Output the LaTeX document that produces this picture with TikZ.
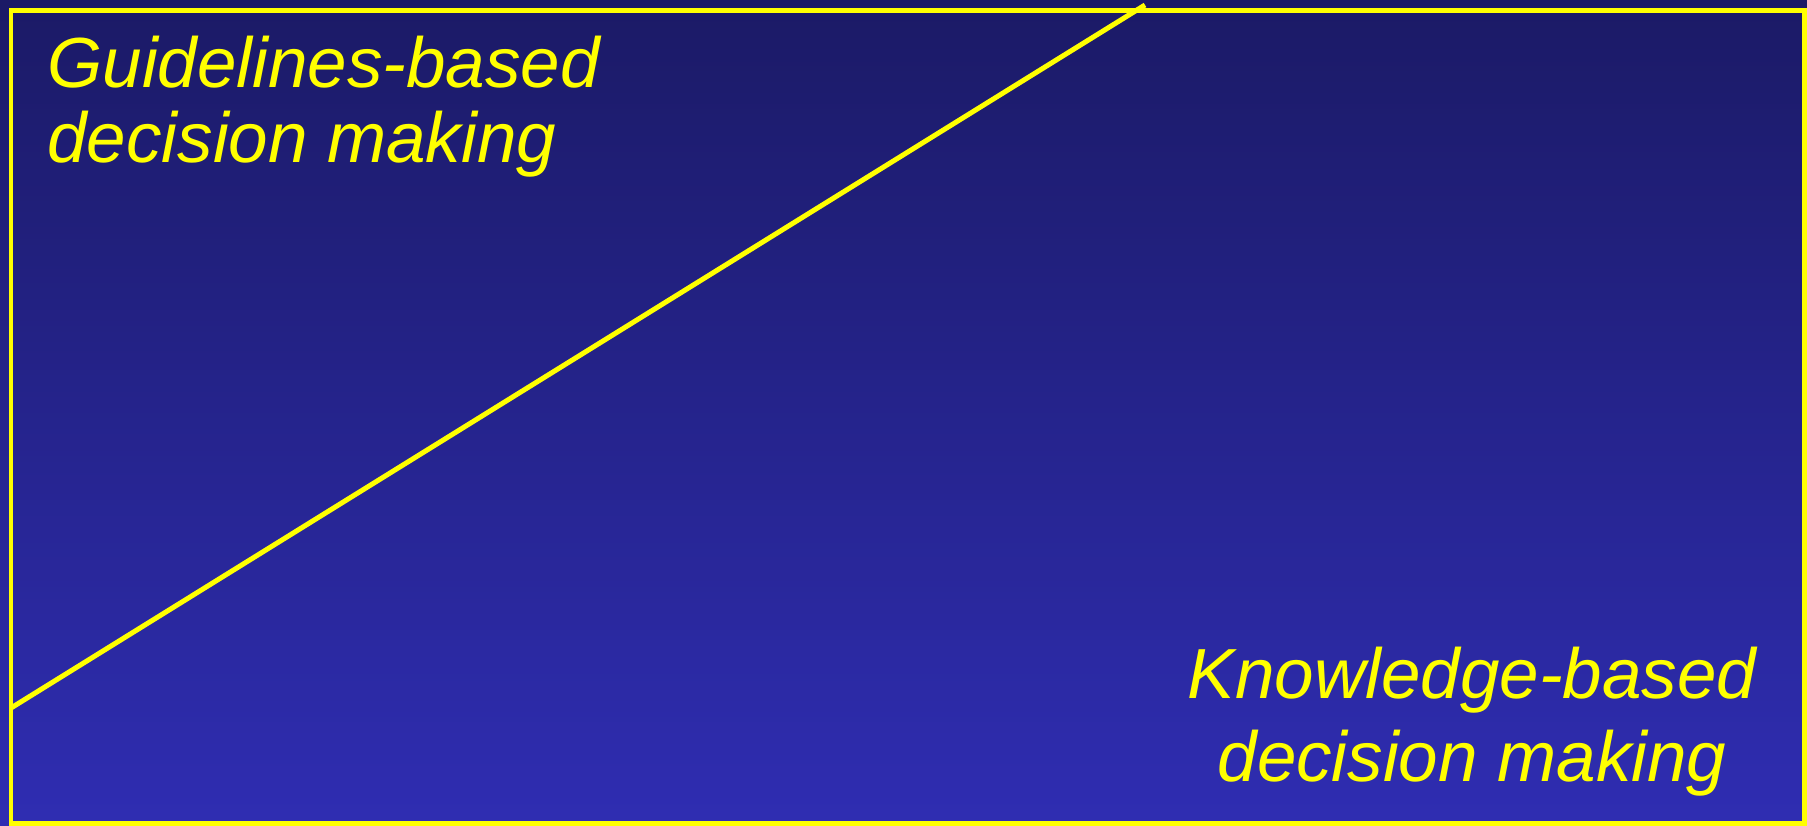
\documentclass[tikz,border=0pt]{standalone}
\usepackage{fontspec}
\newfontfamily\slidefont{Liberation Sans}
\definecolor{slidetop}{RGB}{27,26,102}
\definecolor{slidebottom}{RGB}{47,45,178}
\definecolor{slideyellow}{RGB}{255,255,0}
\begin{document}
\begin{tikzpicture}[x=0.02cm,y=-0.02cm,line cap=butt,line join=miter]
  \useasboundingbox (0,0) rectangle (1807,825);
  \shade[top color=slidetop,bottom color=slidebottom] (0,0) rectangle (1807,825);
  \coordinate (TL) at (11,10);
  \coordinate (BR) at (1804.5,823.5);
  \coordinate (L) at (11,708);
  \coordinate (T) at (1145,5);
  \draw[slideyellow,line width=0.1cm] (TL) rectangle (BR);
  \draw[slideyellow,line width=0.1cm] (L) -- (T);
  \node[anchor=north west,inner sep=0pt,align=left,text=slideyellow,
        font=\slidefont\itshape\fontsize{40.4}{42.7}\selectfont] (guide) at (47,36)
        {Guidelines-based\\decision making};
  \node[anchor=north,inner sep=0pt,align=center,text=slideyellow,
        font=\slidefont\itshape\fontsize{40.4}{47.2}\selectfont] (know) at (1472,647)
        {Knowledge-based\\decision making};
\end{tikzpicture}
\end{document}
